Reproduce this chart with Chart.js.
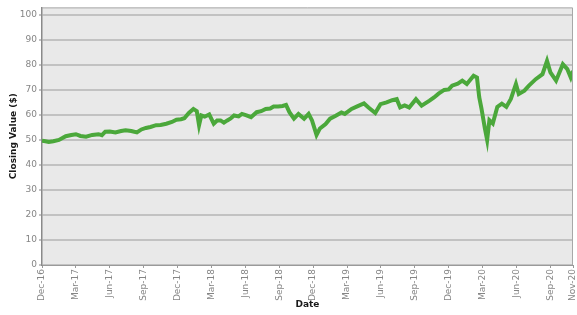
<!DOCTYPE html>
<html>
<head>
<meta charset="utf-8">
<script src="https://cdn.jsdelivr.net/npm/chart.js@4"></script>
<style>
    body { margin: 0; background: #ffffff; }
    canvas { display: block; }
</style>
</head>
<body>
<canvas id="chart" width="577" height="315"></canvas>
<script>
// Months since Dec-16 (x) and closing values (y)
const monthOffsets = [
    0, 0.3, 0.6, 1.0, 1.5, 2.1, 2.6, 3.0, 3.4, 3.9, 4.45, 5.0, 5.3, 5.6, 6.0, 6.5, 7.0, 7.4, 7.9, 8.4,
    8.8, 9.2, 9.6, 10.1, 10.5, 11.0, 11.5, 11.9, 12.3, 12.6, 13.0, 13.4, 13.7, 13.9, 14.1, 14.4, 14.8, 15.2, 15.5, 15.8,
    16.1, 16.4, 16.7, 17.0, 17.4, 17.7, 18.1, 18.5, 19.0, 19.4, 19.8, 20.2, 20.5, 20.9, 21.3, 21.6, 21.9, 22.3, 22.7, 23.2,
    23.6, 23.9, 24.3, 24.6, 25.1, 25.5, 26.0, 26.5, 26.8, 27.4, 27.9, 28.5, 28.9, 29.5, 29.96, 30.5, 31.0, 31.4, 31.7, 32.1,
    32.5, 33.1, 33.6, 34.3, 34.7, 35.1, 35.6, 36.0, 36.3, 36.8, 37.2, 37.6, 38.2, 38.5, 38.7, 38.9, 39.2, 39.4, 39.6, 39.9,
    40.3, 40.7, 41.1, 41.5, 41.95, 42.2, 42.7, 43.1, 43.7, 44.3, 44.7, 45.0, 45.5, 46.1, 46.5, 46.8, 47.0
];
const closingValues = [
    49.7, 49.5, 49.2, 49.5, 50.0, 51.5, 52.0, 52.3, 51.6, 51.3, 52.0, 52.3, 51.9, 53.3, 53.4, 53.0, 53.6, 53.9, 53.6, 53.0,
    54.2, 54.8, 55.2, 55.9, 56.0, 56.5, 57.2, 58.1, 58.3, 58.7, 60.8, 62.4, 61.5, 55.9, 59.8, 59.3, 60.2, 56.5, 57.8, 57.8,
    56.9, 57.8, 58.6, 59.8, 59.4, 60.4, 59.8, 59.1, 61.1, 61.5, 62.4, 62.6, 63.4, 63.4, 63.6, 64.0, 61.1, 58.5, 60.4, 58.5,
    60.4, 57.8, 52.0, 54.6, 56.4, 58.5, 59.7, 61.0, 60.4, 62.4, 63.4, 64.6, 63.0, 60.8, 64.3, 65.0, 65.9, 66.3, 63.0, 63.8,
    63.0, 66.3, 63.7, 65.7, 67.0, 68.5, 70.0, 70.2, 71.7, 72.5, 73.7, 72.4, 75.7, 75.0, 67.1, 62.5, 54.6, 50.0, 57.9, 56.6,
    63.2, 64.5, 63.2, 66.4, 72.4, 68.4, 69.7, 71.7, 74.3, 76.3, 81.6, 77.0, 73.7, 80.3, 78.3, 75.0, 77.6
];

// Tick positions (months since Dec-16) and their labels
const tickMonths = [0, 3, 6, 9, 12, 15, 18, 21, 24, 27, 30, 33, 36, 39, 42, 45, 47];
const tickLabels = ['Dec-16', 'Mar-17', 'Jun-17', 'Sep-17', 'Dec-17', 'Mar-18', 'Jun-18', 'Sep-18',
    'Dec-18', 'Mar-19', 'Jun-19', 'Sep-19', 'Dec-19', 'Mar-20', 'Jun-20', 'Sep-20', 'Nov-20'];
const yTicks = [0, 10, 20, 30, 40, 50, 60, 70, 80, 90, 100];

// Plot background and frame
const plotFrame = {
    id: 'plotFrame',
    beforeDraw(chart) {
        const { ctx, chartArea: a } = chart;
        ctx.save();
        ctx.fillStyle = '#e9e9e9';
        ctx.fillRect(a.left, a.top, a.right - a.left, a.bottom - a.top);
        ctx.restore();
    },
    afterDatasetsDraw(chart) {
        const { ctx, chartArea: a } = chart;
        ctx.save();
        ctx.strokeStyle = '#a8a8a8';
        ctx.lineWidth = 1;
        ctx.beginPath();
        ctx.moveTo(a.left, a.top + 0.5);
        ctx.lineTo(a.right - 0.5, a.top + 0.5);
        ctx.lineTo(a.right - 0.5, a.bottom);
        ctx.stroke();
        ctx.restore();
    }
};

const points = monthOffsets.map((m, i) => ({ x: m, y: closingValues[i] }));

new Chart(document.getElementById('chart'), {
    type: 'line',
    data: {
        datasets: [{
            data: points,
            borderColor: '#4ba83b',
            borderWidth: 4,
            pointRadius: 0,
            tension: 0,
            fill: false
        }]
    },
    options: {
        responsive: false,
        animation: false,
        layout: { padding: { top: 3, right: 0, left: 0, bottom: 0 } },
        plugins: {
            legend: { display: false },
            tooltip: { enabled: false }
        },
        scales: {
            x: {
                type: 'linear',
                min: 0,
                max: 47,
                afterBuildTicks(scale) {
                    scale.ticks = tickMonths.map(v => ({ value: v }));
                },
                afterFit(scale) {
                    scale.height = 50;
                    scale.paddingRight = 4;
                },
                ticks: {
                    autoSkip: false,
                    minRotation: 90,
                    maxRotation: 90,
                    padding: 1,
                    color: '#858585',
                    font: { family: 'DejaVu Sans', size: 9 },
                    callback: (value) => tickLabels[tickMonths.indexOf(value)]
                },
                grid: {
                    drawOnChartArea: false,
                    drawTicks: true,
                    tickLength: 3,
                    color: '#999999'
                },
                border: { color: '#9a9a9a', width: 1 },
                title: {
                    display: true,
                    text: 'Date',
                    color: '#1a1a1a',
                    font: { family: 'DejaVu Sans', size: 9, weight: 'bold' },
                    padding: { top: 0, bottom: 5 }
                }
            },
            y: {
                min: 0,
                max: 103,
                afterBuildTicks(scale) {
                    scale.ticks = yTicks.map(v => ({ value: v }));
                },
                afterFit(scale) {
                    scale.width = 42;
                },
                ticks: {
                    padding: 2,
                    color: '#858585',
                    font: { family: 'DejaVu Sans', size: 9 }
                },
                grid: {
                    color: '#c2c2c2',
                    lineWidth: 2,
                    tickLength: 3
                },
                border: { color: '#8a8a8a', width: 1.5 },
                title: {
                    display: true,
                    text: 'Closing Value ($)',
                    color: '#1a1a1a',
                    font: { family: 'DejaVu Sans', size: 9, weight: 'bold' },
                    padding: { top: 8, bottom: 0 }
                }
            }
        }
    },
    plugins: [plotFrame]
});
</script>
</body>
</html>
